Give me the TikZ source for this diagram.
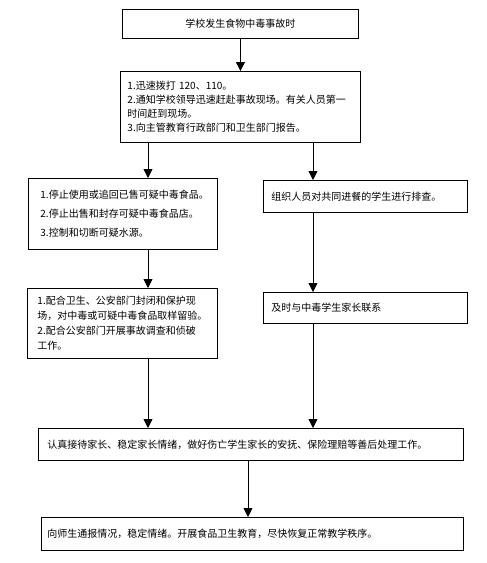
\documentclass[tikz,border=0pt]{standalone}
\usepackage{fontspec}
\newfontfamily\cjk{Noto Sans CJK SC}
\usetikzlibrary{arrows.meta}

\begin{document}
\begin{tikzpicture}[
  x=1pt,y=-1pt,
  font=\cjk\fontsize{10}{14}\selectfont,
  box/.style={draw,line width=0.9pt,anchor=north west,align=left,inner ysep=0pt},
  arr/.style={line width=0.9pt,-{Triangle[length=9pt,width=9pt]}}
]
\useasboundingbox (0,0) rectangle (487,563);
\coordinate (lcol) at (148,0);
\coordinate (rcol) at (313,0);
\coordinate (mcol) at (248,0);
% first steps
\node[box,align=center,minimum width=236pt,minimum height=29pt] (start) at (122,9) {学校发生食物中毒事故时};
\node[box,inner xsep=7pt,text width=226pt,minimum height=71pt] (act) at (120,71)
  {1.迅速拨打 120、110。\\2.通知学校领导迅速赶赴事故现场。有关人员第一\\时间赶到现场。\\3.向主管教育行政部门和卫生部门报告。};
% two branches
\node[box,inner xsep=12pt,text width=165pt,minimum height=71pt,
  font=\cjk\fontsize{10}{19}\selectfont] (stop) at (28,178)
  {1.停止使用或追回已售可疑中毒食品。\\2.停止出售和封存可疑中毒食品店。\\3.控制和切断可疑水源。};
\node[box,inner xsep=8pt,text width=188pt,minimum height=32pt] (check) at (263,180)
  {组织人员对共同进餐的学生进行排查。};
\node[box,inner xsep=10pt,text width=170pt,minimum height=70pt,
  font=\cjk\fontsize{10}{15}\selectfont] (police) at (27,288)
  {1.配合卫生、公安部门封闭和保护现\\场，对中毒或可疑中毒食品取样留验。\\2.配合公安部门开展事故调查和侦破\\工作。};
\node[box,inner xsep=8pt,text width=188pt,minimum height=31pt] (parent) at (263,292)
  {及时与中毒学生家长联系};
% merge
\node[box,inner xsep=9pt,text width=407pt,minimum height=32pt] (care) at (38,428)
  {认真接待家长、稳定家长情绪，做好伤亡学生家长的安抚、保险理赔等善后处理工作。};
\node[box,inner xsep=6pt,text width=410pt,minimum height=33pt] (order) at (41,517)
  {向师生通报情况，稳定情绪。开展食品卫生教育，尽快恢复正常教学秩序。};
% arrows
\draw[arr] (start.south) -- (act.north);
\draw[arr] (act.south -| lcol) -- (stop.north -| lcol);
\draw[arr] (act.south -| rcol) -- (check.north -| rcol);
\draw[arr] (stop.south -| lcol) -- (police.north -| lcol);
\draw[arr] (check.south -| rcol) -- (parent.north -| rcol);
\draw[arr] (police.south -| lcol) -- (care.north -| lcol);
\draw[arr] (parent.south -| rcol) -- (care.north -| rcol);
\draw[arr] (care.south -| mcol) -- (order.north -| mcol);
\end{tikzpicture}
\end{document}
